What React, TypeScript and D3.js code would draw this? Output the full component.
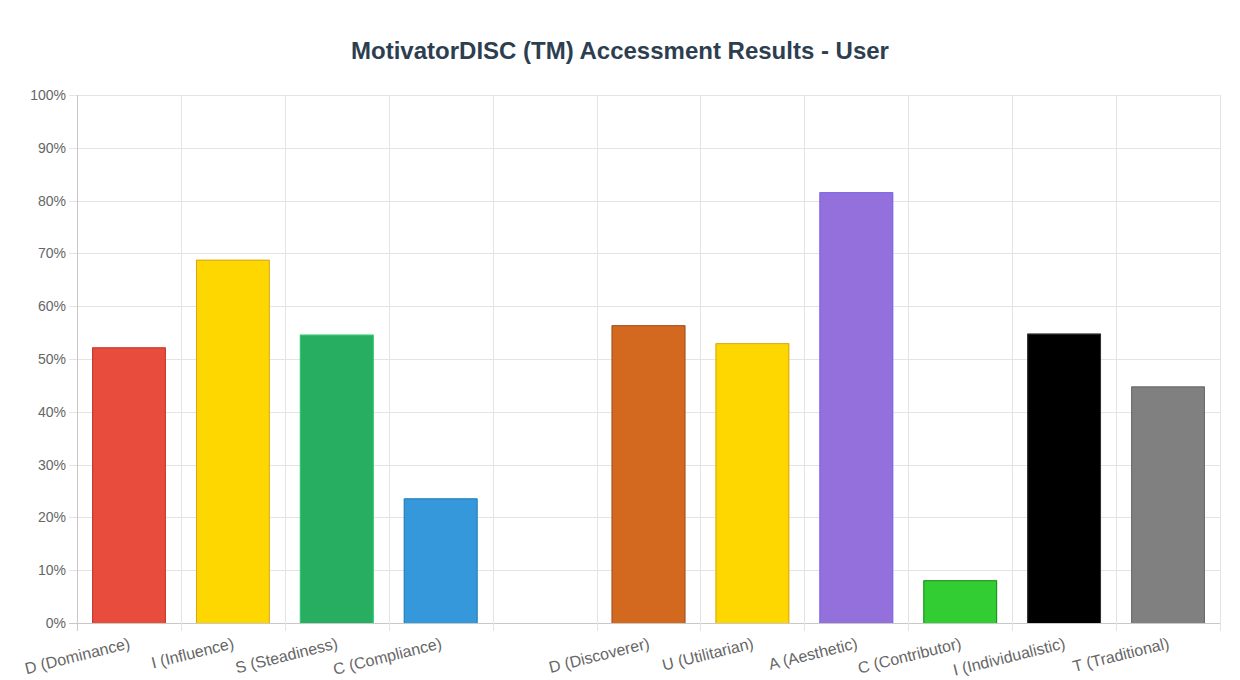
import React from "react";
import * as d3 from "d3";

const categories: string[] = [
  "D (Dominance)",
  "I (Influence)",
  "S (Steadiness)",
  "C (Compliance)",
  "",
  "D (Discoverer)",
  "U (Utilitarian)",
  "A (Aesthetic)",
  "C (Contributor)",
  "I (Individualistic)",
  "T (Traditional)",
];
const values: (number | null)[] = [52.2, 68.8, 54.6, 23.6, null, 56.4, 53.0, 81.6, 8.1, 54.8, 44.8];
const fills: string[] = [
  "#e74c3c", "#ffd700", "#27ae60", "#3498db", "none",
  "#d2691e", "#ffd700", "#9370db", "#32cd32", "#000000", "#808080",
];
const borders: string[] = [
  "#c0392b", "#daa520", "#2ecc71", "#2980b9", "none",
  "#a0522d", "#daa520", "#7b68ee", "#228b22", "#333333", "#696969",
];
const yTicks: number[] = [0, 10, 20, 30, 40, 50, 60, 70, 80, 90, 100];
const title = "MotivatorDISC (TM) Accessment Results - User";

const W = 1240;
const H = 680;
const left = 77;
const right = 1220;
const top = 95;
const bottom = 623;

export default function App() {
  const x = d3
    .scaleBand<number>()
    .domain(categories.map((_, i) => i))
    .range([left, right])
    .paddingInner(0)
    .paddingOuter(0);
  const y = d3.scaleLinear().domain([0, 100]).range([bottom, top]);
  const bw = x.bandwidth();
  const barW = bw * 0.71;
  const font = "'Liberation Sans', Arial, Helvetica, sans-serif";
  const gridBounds = d3.range(categories.length + 1).map((i) => left + i * bw);

  return (
    <svg
      width={W}
      height={H}
      style={{ position: "absolute", left: 0, top: 0, background: "#fff" }}
      fontFamily={font}
    >
      <text
        x={620}
        y={59}
        textAnchor="middle"
        fontSize={24}
        fontWeight="bold"
        fill="#2c3e50"
      >
        {title}
      </text>
      {/* horizontal grid */}
      {yTicks.map((t) => (
        <g key={"y" + t}>
          <line
            x1={left - 8}
            x2={right}
            y1={Math.round(y(t)) + 0.5}
            y2={Math.round(y(t)) + 0.5}
            stroke={t === 0 ? "#c8c8c8" : "#e4e4e4"}
            strokeWidth={1}
          />
          <text
            x={66}
            y={y(t)}
            dy="0.35em"
            textAnchor="end"
            fontSize={14}
            fill="#666"
          >
            {t + "%"}
          </text>
        </g>
      ))}
      {/* vertical grid */}
      {gridBounds.map((gx, i) => (
        <line
          key={"x" + i}
          x1={Math.round(gx) + 0.5}
          x2={Math.round(gx) + 0.5}
          y1={top}
          y2={bottom + 8}
          stroke={i === 0 ? "#c8c8c8" : "#e4e4e4"}
          strokeWidth={1}
        />
      ))}
      {/* bars */}
      {values.map((v, i) => {
        if (v === null) return null;
        const cx = (x(i) as number) + bw / 2;
        const x0 = cx - barW / 2;
        const x1 = cx + barW / 2;
        const y0 = y(v);
        return (
          <g key={"b" + i}>
            <rect x={x0} y={y0} width={barW} height={bottom - y0} fill={fills[i]} />
            <path
              d={`M${x0 + 0.5},${bottom} L${x0 + 0.5},${y0 + 0.5} L${x1 - 0.5},${y0 + 0.5} L${x1 - 0.5},${bottom}`}
              fill="none"
              stroke={borders[i]}
              strokeWidth={1}
            />
          </g>
        );
      })}
      {/* x labels */}
      {categories.map((c, i) => {
        const cx = (x(i) as number) + bw / 2;
        return (
          <text
            key={"l" + i}
            transform={`translate(${cx - 1},${636}) rotate(-14)`}
            textAnchor="end"
            dy="0.78em"
            fontSize={16}
            fill="#666"
          >
            {c}
          </text>
        );
      })}
    </svg>
  );
}
